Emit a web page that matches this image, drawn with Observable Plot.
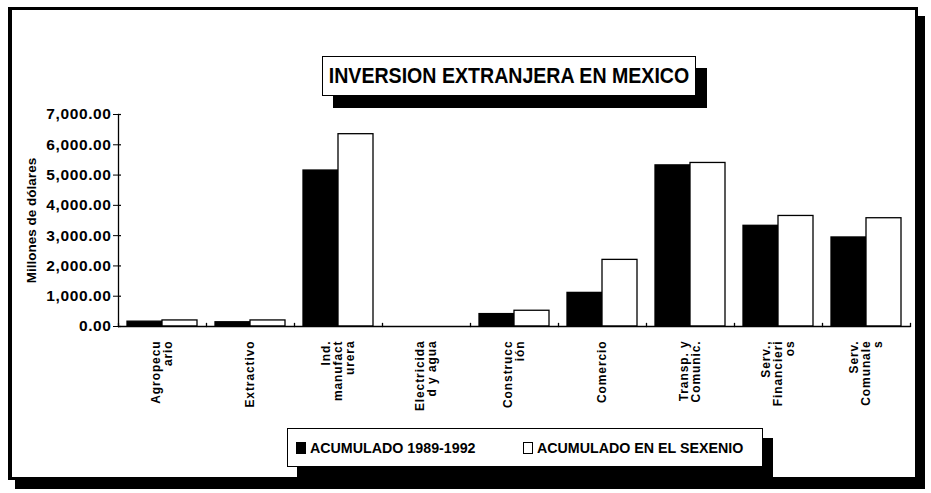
<!DOCTYPE html>
<html>
<head>
<meta charset="utf-8">
<script src="https://cdn.jsdelivr.net/npm/d3@7"></script>
<script src="https://cdn.jsdelivr.net/npm/@observablehq/plot@0.6"></script>
<style>
  html, body { margin: 0; padding: 0; background: #fff; }
  #page { position: relative; width: 931px; height: 493px; overflow: hidden; background: #fff; }
  #frame { position: absolute; left: 8px; top: 7px; width: 903px; height: 467px; border-style: solid; border-color: #000; border-width: 3px 3px 3px 4px; box-shadow: 7px 9px 0 #000; background: #fff; }
  #title { position: absolute; left: 322px; top: 56px; width: 372px; height: 38px; border: 1.5px solid #000; background: #fff; box-shadow: 11px 12px 0 #000;
           font-family: "Liberation Sans", Arial, sans-serif; font-weight: bold; font-size: 22px; line-height: 38px; color: #000; white-space: nowrap; }
  #title span { position: absolute; left: 50%; top: 0; transform: translateX(-50%) scaleX(0.89); transform-origin: center; }
  #chart { position: absolute; left: 0; top: 100px; }
  #legend { position: absolute; left: 287px; top: 428px; width: 474px; height: 37px; border: 1.5px solid #000; background: #fff; box-shadow: 10px 10px 0 #000;
            font-family: "Liberation Sans", Arial, sans-serif; font-weight: bold; font-size: 15px; color: #000; white-space: nowrap; }
  .item { position: absolute; top: 10px; display: flex; align-items: center; gap: 4px; }
  .item .tx { display: inline-block; transform: scaleX(0.95); transform-origin: left center; }
  .sw { width: 10px; height: 12px; border: 1px solid #000; box-sizing: border-box; }
  .fxlab text { letter-spacing: 0.9px; }
  .ylab text { letter-spacing: 0.6px; }
  .ytitle text { letter-spacing: 0.5px; }
</style>
</head>
<body>
<div id="page">
  <div id="frame"></div>
  <div id="title"></div>
  <div id="chart"></div>
  <div id="legend"></div>
</div>
<script>
// ---- data ----
const titleText = "INVERSION EXTRANJERA EN MEXICO";
const yLabel = "Millones de dólares";
const categories = [
  "Agropecu\nario", "Extractivo", "Ind.\nmanufact\nurera", "Electricida\nd y agua",
  "Construcc\nión", "Comercio", "Transp. y\nComunic.", "Serv.,\nFinancieri\nos", "Serv.\nComunale\ns"
];
const seriesNames = ["ACUMULADO 1989-1992", "ACUMULADO EN EL SEXENIO"];
const acumulado8992 = [160, 140, 5150, 0, 410, 1110, 5320, 3325, 2940];
const acumuladoSexenio = [200, 200, 6350, 0, 520, 2200, 5400, 3650, 3575];
const seriesColors = ["#000000", "#ffffff"];
const yTicks = [0, 1000, 2000, 3000, 4000, 5000, 6000, 7000];

// ---- table ----
const rows = [];
categories.forEach((c, i) => {
  rows.push({cat: c, series: seriesNames[0], value: acumulado8992[i]});
  rows.push({cat: c, series: seriesNames[1], value: acumuladoSexenio[i]});
});

const tspan = document.createElement("span");
tspan.textContent = titleText;
document.getElementById("title").appendChild(tspan);

const W = 931, H = 320, mT = 14, mB = 94, mL = 118, mR = 21;
const innerH = H - mT - mB;
const facetW = (W - mL - mR) / categories.length;

const chart = Plot.plot({
  width: W, height: H,
  marginTop: mT, marginBottom: mB, marginLeft: mL, marginRight: mR,
  style: {fontFamily: "'Liberation Sans', Arial, sans-serif", fontWeight: "bold", background: "transparent", color: "#000"},
  fx: {domain: categories, paddingInner: 0, paddingOuter: 0, axis: null},
  x: {domain: seriesNames, paddingInner: 0, paddingOuter: 0.24, axis: null},
  y: {domain: [0, 7000], axis: null},
  color: {domain: seriesNames, range: seriesColors},
  marks: [
    Plot.barY(rows, {fx: "cat", x: "series", y: "value", fill: "series", stroke: "#000", strokeWidth: 1.3}),
    Plot.ruleY([0], {stroke: "#000", strokeWidth: 1.6}),
    Plot.frame({anchor: "left", facetAnchor: "left", stroke: "#000", strokeWidth: 1.3}),
    Plot.frame({anchor: "left", insetTop: innerH - 3, stroke: "#000", strokeWidth: 1.3}),
    Plot.frame({anchor: "right", facetAnchor: "right", insetTop: innerH - 3, stroke: "#000", strokeWidth: 1.3}),
    Plot.tickY(yTicks, {facetAnchor: "left", insetRight: facetW - 3, stroke: "#000", strokeWidth: 1.2}),
    Plot.axisY({ticks: yTicks, tickFormat: d3.format(",.2f"), tickSize: 5, tickPadding: 2, fontSize: 15.5,
                className: "ylab", label: null}),
    Plot.axisY({ticks: [], label: yLabel, labelAnchor: "center", labelArrow: "none", labelOffset: 92, fontSize: 13.5, tickSize: 0, className: "ytitle"}),
    Plot.axisFx({anchor: "bottom", tickRotate: -90, tickSize: 0, tickPadding: 14, fontSize: 12,
                 label: null, lineHeight: 1.0, textAnchor: "end", lineAnchor: "middle", className: "fxlab"})
  ]
});
document.getElementById("chart").appendChild(chart);

// ---- legend ----
const legend = document.getElementById("legend");
const legendLefts = [8, 235];
seriesNames.forEach((s, i) => {
  const it = document.createElement("div");
  it.className = "item";
  it.style.left = legendLefts[i] + "px";
  const sw = document.createElement("span");
  sw.className = "sw";
  sw.style.background = seriesColors[i];
  const tx = document.createElement("span");
  tx.className = "tx";
  tx.textContent = s;
  it.appendChild(sw); it.appendChild(tx);
  legend.appendChild(it);
});
</script>
</body>
</html>
